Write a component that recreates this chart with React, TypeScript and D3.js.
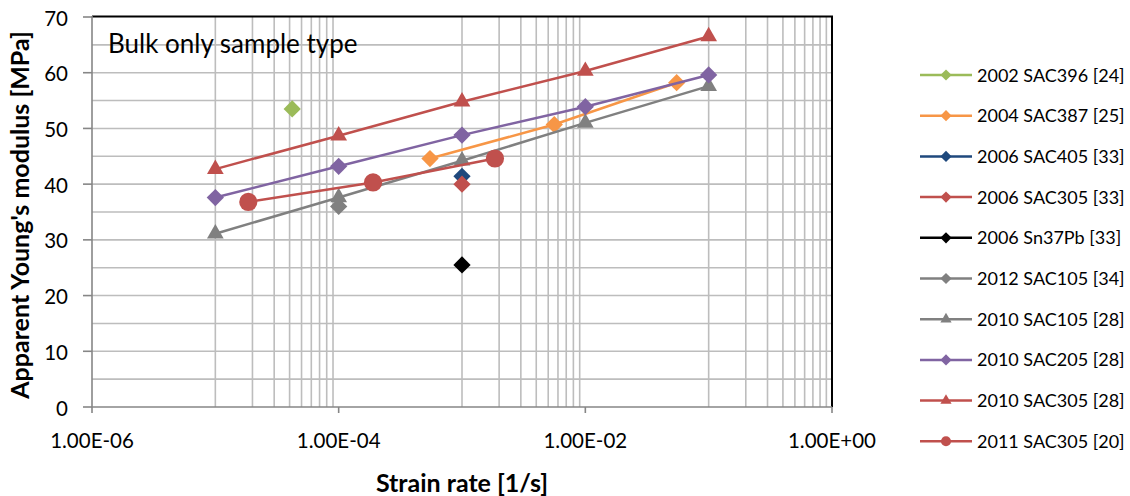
import React from "react";
import * as d3 from "d3";

const W = 1130;
const H = 496;

// ---- Data ----
const seriesNames = [
  "2002 SAC396 [24]",
  "2004 SAC387 [25]",
  "2006 SAC405 [33]",
  "2006 SAC305 [33]",
  "2006 Sn37Pb [33]",
  "2012 SAC105 [34]",
  "2010 SAC105 [28]",
  "2010 SAC205 [28]",
  "2010 SAC305 [28]",
  "2011 SAC305 [20]",
];
const seriesColors = ["#9BBB59", "#F79646", "#1F497D", "#C0504D", "#000000", "#808080", "#808080", "#8064A2", "#C0504D", "#C0504D"];
const seriesMarkers = ["diamond", "diamond", "diamond", "diamond", "diamond", "diamond", "triangle", "diamond", "triangle", "circle"];

const sac396_2002X = [4.2e-5];
const sac396_2002Y = [53.5];
const sac387_2004X = [5.5e-4, 5.6e-3, 5.5e-2];
const sac387_2004Y = [44.6, 50.7, 58.2];
const sac405_2006X = [1e-3];
const sac405_2006Y = [41.4];
const sac305_2006X = [1e-3];
const sac305_2006Y = [40.0];
const sn37pb_2006X = [1e-3];
const sn37pb_2006Y = [25.5];
const sac105_2012X = [1e-4];
const sac105_2012Y = [36.0];
const sac105_2010X = [1e-5, 1e-4, 1e-3, 1e-2, 1e-1];
const sac105_2010Y = [31.1, 37.6, 44.2, 51.0, 57.6];
const sac205_2010X = [1e-5, 1e-4, 1e-3, 1e-2, 1e-1];
const sac205_2010Y = [37.6, 43.2, 48.8, 53.9, 59.6];
const sac305_2010X = [1e-5, 1e-4, 1e-3, 1e-2, 1e-1];
const sac305_2010Y = [42.7, 48.7, 54.8, 60.3, 66.5];
const sac305_2011X = [1.85e-5, 1.9e-4, 1.85e-3];
const sac305_2011Y = [36.8, 40.3, 44.6];

const seriesX = [sac396_2002X, sac387_2004X, sac405_2006X, sac305_2006X, sn37pb_2006X, sac105_2012X, sac105_2010X, sac205_2010X, sac305_2010X, sac305_2011X];
const seriesY = [sac396_2002Y, sac387_2004Y, sac405_2006Y, sac305_2006Y, sn37pb_2006Y, sac105_2012Y, sac105_2010Y, sac205_2010Y, sac305_2010Y, sac305_2011Y];

const xTickValues = [1e-6, 1e-4, 1e-2, 1];
const xTickLabels = ["1.00E-06", "1.00E-04", "1.00E-02", "1.00E+00"];
const yTickValues = [0, 10, 20, 30, 40, 50, 60, 70];
const yGridValues = [5, 10, 15, 20, 25, 30, 35, 40, 45, 50, 55, 60, 65];
const minorDecades = [-5, -3, -1];

const FONT = "Lato, 'Open Sans', 'Liberation Sans', sans-serif";

function markerPath(type: string, size: number) {
  if (type === "diamond") return d3.symbol(d3.symbolDiamond2, size)();
  if (type === "triangle") return d3.symbol(d3.symbolTriangle2, size)();
  return d3.symbol(d3.symbolCircle, size)();
}

export default function App() {
  const left = 92, right = 832, top = 17, bottom = 407;
  const x = d3.scaleLog().domain([1e-6, 1]).range([left, right]);
  const y = d3.scaleLinear().domain([0, 70]).range([bottom, top]);

  const vGrid: number[] = [];
  minorDecades.forEach((d) => {
    for (let k = 1; k <= 9; k++) vGrid.push(k * Math.pow(10, d));
  });

  const line = d3
    .line<[number, number]>()
    .x((d) => x(d[0]))
    .y((d) => y(d[1]));

  const markerSize = (t: string) => (t === "circle" ? 260 : t === "triangle" ? 200 : 190);

  return (
    <div style={{ position: "absolute", left: 0, top: 0 }}>
      <svg width={W} height={H} style={{ display: "block", background: "#fff" }} fontFamily={FONT}>
        <rect x={0} y={0} width={W} height={H} fill="#fff" />
        {/* grid */}
        {yGridValues.map((v) => (
          <line key={"h" + v} x1={left} x2={right} y1={y(v)} y2={y(v)} stroke="#BDBDBD" strokeWidth={1.6} />
        ))}
        {vGrid.map((v) => (
          <line key={"v" + v} x1={x(v)} x2={x(v)} y1={top} y2={bottom} stroke="#BDBDBD" strokeWidth={1.6} />
        ))}
        {/* border top/right */}
        <line x1={left} x2={right + 1} y1={top - 0.5} y2={top - 0.5} stroke="#000" strokeWidth={2} />
        <line x1={right} x2={right} y1={top - 1} y2={bottom} stroke="#000" strokeWidth={2} />
        {/* axes */}
        <line x1={left} x2={left} y1={top - 1} y2={bottom} stroke="#868686" strokeWidth={1.6} />
        <line x1={left} x2={right} y1={bottom} y2={bottom} stroke="#868686" strokeWidth={1.6} />
        {xTickValues.map((v, i) => (
          <g key={"xt" + i}>
            <line x1={x(v)} x2={x(v)} y1={bottom} y2={bottom + 6} stroke="#868686" strokeWidth={1.6} />
            <text x={x(v)} y={bottom + 41} textAnchor="middle" fontSize={20.5} fill="#000">
              {xTickLabels[i]}
            </text>
          </g>
        ))}
        {yTickValues.map((v) => (
          <g key={"yt" + v}>
            <line x1={left - 9} x2={left} y1={y(v)} y2={y(v)} stroke="#868686" strokeWidth={1.6} />
            <text x={68} y={y(v) + 8.5} textAnchor="end" fontSize={20.5} fill="#000">
              {v}
            </text>
          </g>
        ))}
        {/* axis titles */}
        <text x={462} y={492} textAnchor="middle" fontSize={25} fontWeight="bold" fill="#000">
          Strain rate [1/s]
        </text>
        <text
          transform={`translate(29,${(top + bottom) / 2 + 3}) rotate(-90)`}
          textAnchor="middle"
          fontSize={25}
          fontWeight="bold"
          fill="#000"
        >
          Apparent Young's modulus [MPa]
        </text>
        {/* annotation */}
        <text x={108} y={53} fontSize={26} fill="#000">
          Bulk only sample type
        </text>
        {/* series */}
        {seriesNames.map((name, i) => {
          const pts: [number, number][] = seriesX[i].map((xv, j) => [xv, seriesY[i][j]]);
          const color = seriesColors[i];
          return (
            <g key={name}>
              {pts.length > 1 && <path d={line(pts) || ""} fill="none" stroke={color} strokeWidth={2.5} />}
              {pts.map((p, j) => (
                <path
                  key={j}
                  d={markerPath(seriesMarkers[i], markerSize(seriesMarkers[i])) || ""}
                  transform={`translate(${x(p[0])},${y(p[1])})`}
                  fill={color}
                />
              ))}
            </g>
          );
        })}
        {/* legend */}
        {seriesNames.map((name, i) => {
          const ly = 75 + i * 40.7;
          const color = seriesColors[i];
          const t = seriesMarkers[i];
          const s = t === "circle" ? 80 : t === "triangle" ? 90 : 80;
          return (
            <g key={"lg" + i}>
              <line x1={920} x2={972} y1={ly} y2={ly} stroke={color} strokeWidth={2.5} />
              <path d={markerPath(t, s) || ""} transform={`translate(946,${ly})`} fill={color} />
              <text x={977} y={ly + 6.5} fontSize={18} fill="#000">
                {name}
              </text>
            </g>
          );
        })}
      </svg>
    </div>
  );
}
